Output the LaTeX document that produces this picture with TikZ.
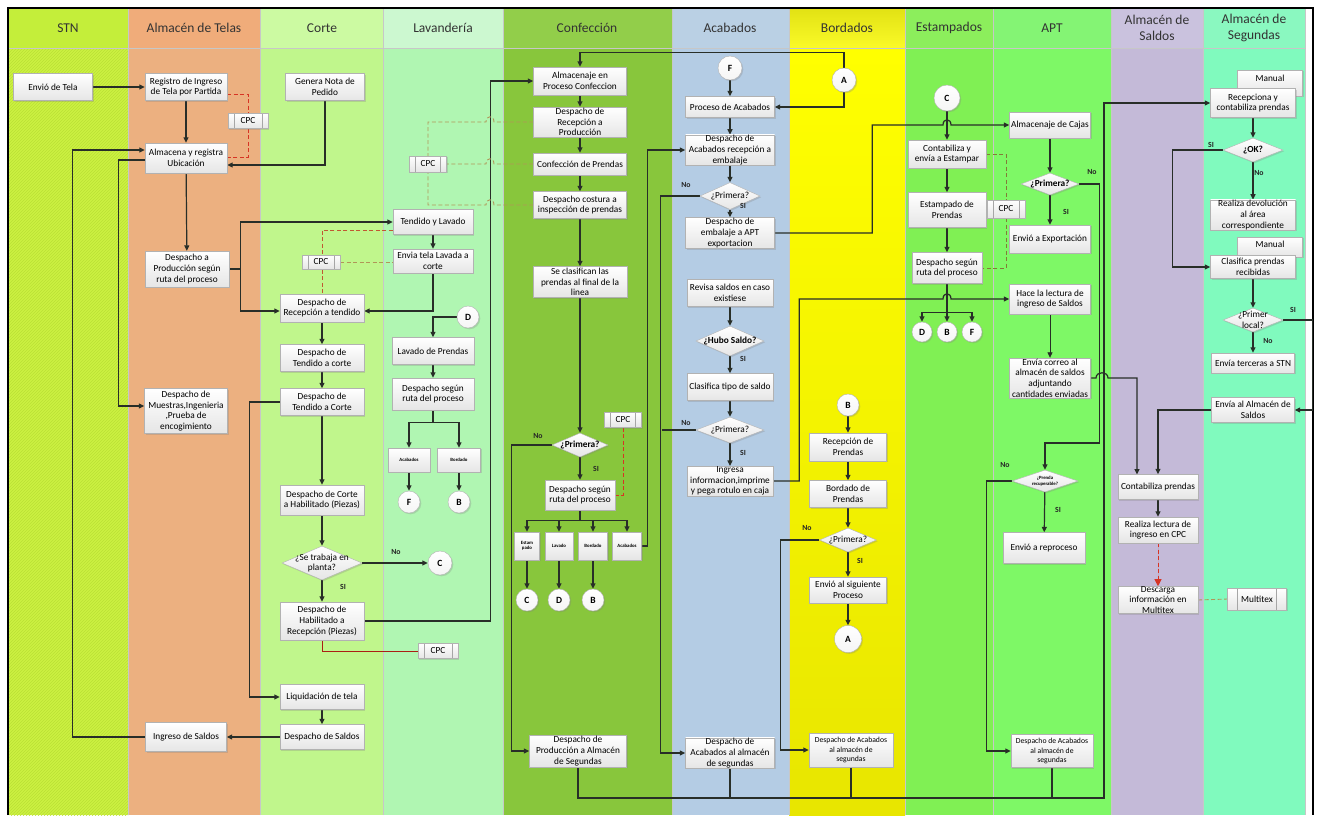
\documentclass[tikz,border=0pt]{standalone}
\usepackage{fontspec}
\setmainfont{Carlito}
\usetikzlibrary{arrows.meta,shapes.geometric,shadows,patterns}

\definecolor{hSTN}{RGB}{196,238,58}
\definecolor{bSTN}{RGB}{204,241,66}
\definecolor{tSTN}{RGB}{186,224,52}
\definecolor{hTel}{RGB}{240,172,122}
\definecolor{bTel}{RGB}{236,176,128}
\definecolor{hCor}{RGB}{204,250,162}
\definecolor{bCor}{RGB}{192,246,140}
\definecolor{hLav}{RGB}{204,248,208}
\definecolor{bLav}{RGB}{176,246,178}
\definecolor{hCon}{RGB}{146,206,74}
\definecolor{bCon}{RGB}{136,198,60}
\definecolor{hAca}{RGB}{186,208,228}
\definecolor{bAca}{RGB}{180,204,228}
\definecolor{hBorA}{RGB}{226,226,20}
\definecolor{hBorB}{RGB}{250,250,40}
\definecolor{bBorA}{RGB}{255,255,0}
\definecolor{bBorB}{RGB}{232,230,0}
\definecolor{hEst}{RGB}{140,238,92}
\definecolor{bEst}{RGB}{128,240,84}
\definecolor{hAPT}{RGB}{132,244,116}
\definecolor{bAPT}{RGB}{126,248,102}
\definecolor{hSal}{RGB}{202,194,222}
\definecolor{bSal}{RGB}{196,186,216}
\definecolor{hSeg}{RGB}{138,248,192}
\definecolor{bSeg}{RGB}{128,250,190}
\definecolor{lnk}{RGB}{40,46,40}
\definecolor{tanD}{RGB}{176,150,88}
\definecolor{brnD}{RGB}{192,88,50}
\definecolor{redD}{RGB}{214,52,36}
\definecolor{redL}{RGB}{170,30,20}
\definecolor{oliD}{RGB}{130,124,56}

\newcommand\fnorm{\fontsize{9.3}{10.6}\selectfont}
\newcommand\fsmall{\fontsize{7.7}{9.2}\selectfont}
\newcommand\ftiny{\fontsize{4.8}{5.6}\selectfont\bfseries}
\newcommand\fhead{\fontsize{13.5}{15.5}\selectfont}
\newcommand\fcirc{\fontsize{9.5}{11}\selectfont\bfseries}
\newcommand\fyn{\fontsize{7.8}{9}\selectfont\bfseries}

\pgfdeclarelayer{lanes}
\pgfdeclarelayer{wires}
\pgfsetlayers{lanes,wires,main}

\tikzset{
  sep/.style={draw=black!22, line width=0.5pt},
  shade box/.style={draw=black!30, line width=0.4pt, top color=white, bottom color=black!10,
    drop shadow={shadow xshift=1.3pt, shadow yshift=-1.3pt, opacity=0.28}},
  box/.style={shade box, rectangle, align=center, font=\fnorm, inner sep=0.5pt,
    minimum width=82, minimum height=27},
  sbox/.style={box, font=\fsmall},
  rbox/.style={box, font=\ftiny, minimum width=28, minimum height=28},
  dia/.style={shade box, diamond, inner sep=0pt, minimum width=60, minimum height=24},
  conn/.style={shade box, circle, bottom color=black!4, font=\fcirc, inner sep=0pt, minimum size=24},
  cpcbox/.style={box, minimum width=40, minimum height=15,
    path picture={\draw[black!35, line width=0.4pt]
      ([xshift=#1]path picture bounding box.south west) -- ([xshift=#1]path picture bounding box.north west)
      ([xshift=-#1]path picture bounding box.south east) -- ([xshift=-#1]path picture bounding box.north east);}},
  cpcbox/.default=6pt,
  ln/.style={draw=lnk, line width=1.2pt},
  arr/.style={ln, -{Triangle[length=5.5pt,width=5pt]}},
  yn/.style={font=\fyn, inner sep=0pt, text=black!85},
  hdr/.style={font=\fhead, align=center, inner sep=0pt, text=black!80},
  tandash/.style={draw=tanD, line width=0.9pt, dash pattern=on 4pt off 2.5pt},
  brndash/.style={draw=brnD, line width=0.9pt, dash pattern=on 4pt off 2.5pt},
  reddash/.style={draw=redD, line width=0.9pt, dash pattern=on 4pt off 2.5pt},
  olidash/.style={draw=oliD, line width=0.9pt, dash pattern=on 4pt off 2.5pt},
  redline/.style={draw=redL, line width=1pt}
}

\begin{document}
\begin{tikzpicture}[x=1pt,y=-1pt]
\useasboundingbox (0,0) rectangle (1318,815);

% ---------------- swimlanes
\begin{pgfonlayer}{lanes}
\fill[white] (0,0) rectangle (1318,815);
\fill[bSTN] (9,48) rectangle (128,815);
\fill[pattern=north east lines, pattern color=tSTN] (9,48) rectangle (128,815);
\fill[bTel] (128,48) rectangle (260,815);
\fill[bCor] (260,48) rectangle (383,815);
\fill[bLav] (383,48) rectangle (503,815);
\fill[bCon] (503,48) rectangle (672,815);
\fill[bAca] (672,48) rectangle (789,815);
\shade[top color=bBorA, bottom color=bBorB] (789,48) rectangle (905,815);
\fill[bEst] (905,48) rectangle (993,815);
\fill[bAPT] (993,48) rectangle (1111,815);
\fill[bSal] (1111,48) rectangle (1203,815);
\fill[bSeg] (1203,48) rectangle (1305,815);
\fill[hSTN] (9,9) rectangle (128,48);
\fill[hTel] (128,9) rectangle (260,48);
\fill[hCor] (260,9) rectangle (383,48);
\fill[hLav] (383,9) rectangle (503,48);
\fill[hCon] (503,9) rectangle (672,48);
\fill[hAca] (672,9) rectangle (789,48);
\shade[top color=hBorA, bottom color=hBorB] (789,9) rectangle (905,48);
\fill[hEst] (905,9) rectangle (993,48);
\fill[hAPT] (993,9) rectangle (1111,48);
\fill[hSal] (1111,9) rectangle (1203,48);
\fill[hSeg] (1203,9) rectangle (1305,48);
\foreach \x in {128,260,383,503,672,789,905,993,1111,1203,1305}
  \draw[sep] (\x,9) -- (\x,815);
\draw[sep] (9,48) -- (1305,48);
\draw[line width=2.2pt] (8,815) -- (8,8) -- (1313,8) -- (1313,815);
\end{pgfonlayer}

% ---------------- lane titles
\node[hdr] (hd1) at (68,28) {STN};
\node[hdr] (hd2) at (194,28) {Almacén de Telas};
\node[hdr] (hd3) at (322,28) {Corte};
\node[hdr] (hd4) at (443,28) {Lavandería};
\node[hdr] (hd5) at (587,28) {Confección};
\node[hdr] (hd6) at (730,28) {Acabados};
\node[hdr] (hd7) at (847,28) {Bordados};
\node[hdr] (hd8) at (949,28) {Estampados};
\node[hdr] (hd9) at (1052,28) {APT};
\node[hdr] (hd10) at (1157,28) {Almacén de\\Saldos};
\node[hdr] (hd11) at (1254,28) {Almacén de\\Segundas};

% ---------------- STN / Almacén de Telas
\node[box, minimum width=79] (envio) at (53,87) {Envió de Tela};
\node[box] (reg) at (186,87) {Registro de Ingreso\\de Tela por Partida};
\node[cpcbox] (cpc1) at (248,121) {CPC};
\node[box, minimum height=30] (alm) at (186,158) {Almacena y registra\\Ubicación};
\node[box, minimum width=84, minimum height=36] (desprod) at (187,269) {Despacho a\\Producción según\\ruta del proceso};
\node[box, minimum width=83, minimum height=45] (muestras) at (186,411) {Despacho de\\Muestras,Ingenieria\\,Prueba de\\encogimiento};
\node[box, minimum width=81, minimum height=29] (ingsal) at (186,737) {Ingreso de Saldos};

% ---------------- Corte
\node[box, minimum width=79] (genera) at (325,87) {Genera Nota de\\Pedido};
\node[cpcbox, minimum width=38, minimum height=14] (cpc2) at (321,262) {CPC};
\node[box, minimum width=84, minimum height=28] (recten) at (322,308) {Despacho de\\Recepción a tendido};
\node[box, minimum width=84] (tenc1) at (322,358) {Despacho de\\Tendido a corte};
\node[box, minimum width=84] (tenc2) at (322,402) {Despacho de\\Tendido a Corte};
\node[box, minimum width=84, minimum height=30] (corhab) at (322,500) {Despacho de Corte\\a Habilitado (Piezas)};
\node[dia, minimum width=80, minimum height=34,
  label={[font=\fnorm,align=center]center:{¿Se trabaja en\\planta?}}] (planta) at (322,563) {};
\node[box, minimum width=84, minimum height=38] (habrec) at (322,621) {Despacho de\\Habilitado a\\Recepción (Piezas)};
\node[cpcbox] (cpc3) at (438,651) {CPC};
\node[box, minimum width=84, minimum height=25] (liq) at (322,697) {Liquidación de tela};
\node[box, minimum width=84, minimum height=25] (dessal) at (322,737) {Despacho de Saldos};

% ---------------- Lavandería
\node[box, minimum width=80, minimum height=25] (tenlav) at (433,222) {Tendido y Lavado};
\node[box, minimum width=80, minimum height=24] (envlav) at (433,261) {Envia tela Lavada a\\corte};
\node[cpcbox, minimum width=37, minimum height=16] (cpc4) at (428,164) {CPC};
\node[conn, minimum size=22] (D1) at (468,317) {D};
\node[box] (lavpre) at (433,351) {Lavado de Prendas};
\node[box, minimum height=32] (desrut1) at (433,394) {Despacho según\\ruta del proceso};
\node[rbox, minimum width=42, minimum height=24] (sacab1) at (409,460) {Acabados};
\node[rbox, minimum width=43, minimum height=24] (sbord1) at (459,460) {Bordado};
\node[conn, minimum size=22] (F1) at (409,502) {F};
\node[conn, minimum size=22] (B1) at (459,502) {B};
\node[conn] (C1) at (440,563) {C};

% ---------------- Confección
\node[box, minimum width=93, minimum height=28] (almproc) at (580,81) {Almacenaje en\\Proceso Confeccion};
\node[box, minimum width=93, minimum height=30] (desrecp) at (580,122) {Despacho de\\Recepción a\\Producción};
\node[box, minimum width=93, minimum height=22] (confpr) at (580,164) {Confección de Prendas};
\node[box, minimum width=93, minimum height=27] (descost) at (580,205) {Despacho costura a\\inspección de prendas};
\node[box, minimum width=94, minimum height=31] (clasif) at (580,282) {Se clasifican las\\prendas al final de la\\linea};
\node[cpcbox, minimum width=37] (cpc5) at (623,420) {CPC};
\node[dia, minimum width=56, minimum height=24,
  label={[font=\fnorm\bfseries]center:¿Primera?}] (prim1) at (580,445) {};
\node[box, minimum width=70, minimum height=30] (desrut2) at (580,495) {Despacho según\\ruta del proceso};
\node[rbox, minimum width=25] (sestam) at (527,546) {Estam\\pado};
\node[rbox] (slav) at (559,546) {Lavado};
\node[rbox, minimum width=29] (sbord2) at (593,546) {Bordado};
\node[rbox, minimum width=29] (sacab2) at (627,546) {Acabados};
\node[conn, minimum size=22] (C2) at (527,600) {C};
\node[conn, minimum size=22] (D2) at (559,600) {D};
\node[conn, minimum size=22] (B2) at (593,600) {B};
\node[box, minimum width=97, minimum height=32] (prodseg) at (578,751) {Despacho de\\Producción a Almacén\\de Segundas};

% ---------------- Acabados
\node[conn] (F2) at (730,68) {F};
\node[box, minimum width=89, minimum height=21] (procac) at (730,107) {Proceso de Acabados};
\node[box, minimum width=89, minimum height=30] (desemb) at (730,150) {Despacho de\\Acabados recepción a\\embalaje};
\node[dia, minimum width=60, minimum height=27,
  label={[font=\fnorm]center:¿Primera?}] (prim2) at (730,196) {};
\node[box, minimum width=89, minimum height=31] (embapt) at (730,233) {Despacho de\\embalaje a APT\\exportacion};
\node[box, minimum width=86] (revisa) at (730,293) {Revisa saldos en caso\\existiese};
\node[dia, minimum width=68, minimum height=30,
  label={[font=\fnorm\bfseries]center:¿Hubo Saldo?}] (hubo) at (730,341) {};
\node[box, minimum width=86] (clastip) at (730,387) {Clasifica tipo de saldo};
\node[dia, minimum width=68, minimum height=26,
  label={[font=\fnorm]center:¿Primera?}] (prim3) at (730,430) {};
\node[box, minimum width=86, minimum height=27] (ingresa) at (730,481) {Ingresa\\informacion,imprime\\y pega rotulo en caja};
\node[box, minimum width=89, minimum height=29] (acseg) at (730,753) {Despacho de\\Acabados al almacén\\de segundas};

% ---------------- Bordados
\node[conn] (A1) at (844,80) {A};
\node[conn, minimum size=22] (B3) at (848,405) {B};
\node[box, minimum width=77, minimum height=28] (recpr) at (848,447) {Recepción de\\Prendas};
\node[box, minimum width=77] (bordpr) at (848,494) {Bordado de\\Prendas};
\node[dia, minimum width=57, minimum height=24,
  label={[font=\fnorm]center:¿Primera?}] (prim4) at (848,540) {};
\node[box, minimum width=77, minimum height=26] (envsig) at (848,590) {Envió al siguiente\\Proceso};
\node[conn, minimum size=27] (A2) at (848,639) {A};
\node[sbox, minimum width=84, minimum height=34] (bordseg) at (851,750) {Despacho de Acabados\\al almacén de\\segundas};

% ---------------- Estampados
\node[conn, minimum size=26] (C3) at (947,98) {C};
\node[box, minimum width=78, minimum height=28] (contab) at (947,154) {Contabiliza y\\envía a Estampar};
\node[box, minimum width=78, minimum height=35] (estpr) at (947,210) {Estampado de\\Prendas};
\node[cpcbox, minimum width=38, minimum height=18] (cpc6) at (1006,209) {CPC};
\node[box, minimum width=70, minimum height=31] (desrut3) at (947,268) {Despacho según\\ruta del proceso};
\node[conn, minimum size=20] (D3) at (922,332) {D};
\node[conn, minimum size=20] (B4) at (947,332) {B};
\node[conn, minimum size=20] (F3) at (972,332) {F};

% ---------------- APT
\node[box, minimum width=81, minimum height=26] (almcaj) at (1050,125) {Almacenaje de Cajas};
\node[dia, minimum width=58, minimum height=22,
  label={[font=\fnorm\bfseries]center:¿Primera?}] (prim5) at (1050,184) {};
\node[box, minimum width=81, minimum height=28] (envexp) at (1050,239) {Envió a Exportación};
\node[box, minimum width=81, minimum height=30] (hace) at (1050,299) {Hace la lectura de\\ingreso de Saldos};
\node[box, minimum width=81, minimum height=40] (correo) at (1050,378) {Envía correo al\\almacén de saldos\\adjuntando\\cantidades enviadas};
\node[dia, minimum width=66, minimum height=22,
  label={[font=\ftiny,align=center]center:{¿Prenda\\recuperable?}}] (recup) at (1045,481) {};
\node[box, minimum width=82, minimum height=31] (repro) at (1044,548) {Envió a reproceso};
\node[sbox, minimum width=82, minimum height=33] (aptseg) at (1052,751) {Despacho de Acabados\\al almacén de\\segundas};

% ---------------- Almacén de Saldos
\node[box, minimum width=80, minimum height=25] (contpr) at (1158,487) {Contabiliza prendas};
\node[box, minimum width=80, minimum height=26] (realiza) at (1158,530) {Realiza lectura de\\ingreso en CPC};
\node[box, minimum width=80, minimum height=25, inner sep=0pt] (descarga) at (1158,600) {Descarga\\información en\\Multitex};
\node[cpcbox=10pt, minimum width=59, minimum height=22] (multitex) at (1257,599) {Multitex};

% ---------------- Almacén de Segundas
\node[box, minimum width=65, minimum height=26,
  label={[font=\fnorm, anchor=north, yshift=-2pt]north:Manual}] (man1) at (1270,83) {};
\node[box, minimum width=85, minimum height=29] (recep) at (1253,103) {Recepciona y\\contabiliza prendas};
\node[dia, minimum width=60, minimum height=24,
  label={[font=\fnorm\bfseries]center:¿OK?}] (ok) at (1253,150) {};
\node[box, minimum width=85, minimum height=30] (devol) at (1253,215) {Realiza devolución\\al área\\correspondiente};
\node[box, minimum width=65, minimum height=20,
  label={[font=\fnorm, anchor=north, yshift=-1pt]north:Manual}] (man2) at (1270,247) {};
\node[box, minimum width=85, minimum height=23] (clasr) at (1253,267) {Clasifica prendas\\recibidas};
\node[dia, minimum width=60, minimum height=24,
  label={[font=\fnorm,align=center]center:{¿Primer\\local?}}] (primloc) at (1253,320) {};
\node[box, minimum width=83, minimum height=20] (terceras) at (1253,363) {Envía terceras a STN};
\node[box, minimum width=83, minimum height=25] (envalm) at (1253,410) {Envía al Almacén de\\Saldos};

% ---------------- decision labels
\node[yn] (nPl) at (396,552) {No};
\node[yn] (sPl) at (343,587) {SI};
\node[yn] (nP1) at (538,436) {No};
\node[yn] (sP1) at (596,469) {SI};
\node[yn] (nP2) at (686,185) {No};
\node[yn] (sP2) at (743,206) {SI};
\node[yn] (sHu) at (743,359) {SI};
\node[yn] (nP3) at (686,423) {No};
\node[yn] (sP3) at (743,453) {SI};
\node[yn] (nP4) at (807,528) {No};
\node[yn] (sP4) at (860,561) {SI};
\node[yn] (nP5) at (1092,172) {No};
\node[yn] (sP5) at (1066,212) {SI};
\node[yn] (nRc) at (1005,465) {No};
\node[yn] (sRc) at (1058,510) {SI};
\node[yn] (sOK) at (1211,145) {SI};
\node[yn] (nOK) at (1259,173) {No};
\node[yn] (sLc) at (1293,310) {SI};
\node[yn] (nLc) at (1268,341) {No};

\coordinate (bus) at (0,798);

% ---------------- connectors
\begin{pgfonlayer}{wires}
% STN / Almacén de Telas
\draw[arr] (envio.east) -- (reg.west);
\draw[arr] (reg) -- (alm);
\draw[reddash] ([yshift=-7pt]reg.east) -| (cpc1.north);
\draw[reddash] (cpc1.south) |- ([yshift=1pt]alm.east);
\draw[arr] (genera.south) |- ([yshift=-7pt]alm.east);
\draw[arr] (ingsal.west) -- ++(-72.5,0) |- ([yshift=8pt]alm.west);
\draw[arr] ([yshift=-2pt]alm.west) -- ++(-26,0) |- ([yshift=5pt]muestras.west);
\draw[arr] (alm) -- (desprod);
\draw[arr] (desprod.east) -- ++(11,0) |- (tenlav.west);
\draw[arr] (desprod.east) -- ++(11,0) |- ([yshift=-3pt]recten.west);
% Corte
\draw[arr] (recten) -- (tenc1);
\draw[arr] (tenc1) -- (tenc2);
\draw[arr] (tenc2) -- (corhab);
\draw[arr] (corhab) -- (planta);
\draw[arr] (planta) -- (habrec);
\draw[arr] (planta.east) -- (C1.west);
\draw[arr] (habrec.east) -- ++(126,0) |- (almproc.west);
\draw[redline] (habrec.south) |- (cpc3.west);
\draw[arr] (tenc2.west) -- ++(-30,0) |- (liq.west);
\draw[arr] (liq) -- (dessal);
\draw[arr] (dessal) -- (ingsal);
% Lavandería
\draw[brndash] ([yshift=-8pt]tenlav.west) -| (recten.north);
\draw[tandash] (cpc2.east) -- (cpc2.east -| envlav.west);
\draw[arr] (tenlav) -- (envlav);
\draw[arr] (envlav.south) |- ([yshift=-3pt]recten.east);
\draw[arr] (D1.west) -| (lavpre.north);
\draw[arr] (lavpre) -- (desrut1);
\draw[arr] (desrut1.south) -- ++(0,12) -| (sacab1.north);
\draw[arr] (desrut1.south) -- ++(0,12) -| (sbord1.north);
\draw[arr] (sacab1) -- (F1);
\draw[arr] (sbord1) -- (B1);
% Confección
\draw[arr] (A1.north) -- ++(0,-15) -| (almproc.north);
\draw[arr] (A1.south) |- (procac.east);
\draw[arr] (almproc) -- (desrecp);
\draw[arr] (desrecp) -- (confpr);
\draw[arr] (confpr) -- (descost);
\draw[arr, line width=1.7pt] (descost) -- (clasif);
\draw[arr] (clasif) -- (prim1);
\draw[tandash] (desrecp.west) -- (494,122) .. controls (494,115) and (486,115) .. (486,122) -| (cpc4.north);
\draw[tandash] (confpr.west) -- (494,164) .. controls (494,157) and (486,157) .. (486,164) -- (cpc4.east);
\draw[tandash] (descost.west) -- (494,205) .. controls (494,198) and (486,198) .. (486,205) -| (cpc4.south);
\draw[arr] (prim1.west) -- ++(-40,0) |- (prodseg.west);
\draw[arr] (prim1) -- (desrut2);
\draw[reddash] (cpc5.south) |- (desrut2.east);
\draw[arr] (desrut2.south) -- ++(0,10) -| (sestam.north);
\draw[arr] (desrut2.south) -- ++(0,10) -| (slav.north);
\draw[arr] (desrut2.south) -- ++(0,10) -| (sbord2.north);
\draw[arr] (desrut2.south) -- ++(0,10) -| (sacab2.north);
\draw[arr] (sestam) -- (C2);
\draw[arr] (slav) -- (D2);
\draw[arr] (sbord2) -- (B2);
\draw[arr] (sacab2.east) -- ++(5.5,0) |- (desemb.west);
% Acabados
\draw[arr] (F2) -- (procac);
\draw[arr] (procac) -- (desemb);
\draw[arr] (desemb) -- (prim2);
\draw[arr] (prim2) -- (embapt);
\draw[arr] (prim2.west) -- ++(-39,0) |- (acseg.west);
\draw[ln] (prim3.west) -- ++(-34,0);
\draw[arr] (embapt.east) -- ++(97.5,0) |- (943,125) .. controls (943,118) and (951,118) .. (951,125) -- (almcaj.west);
\draw[arr] (revisa) -- (hubo);
\draw[arr] (hubo) -- (clastip);
\draw[arr] (clastip) -- (prim3);
\draw[arr] (prim3) -- (ingresa);
\draw[arr] (ingresa.east) -- ++(26,0) |- (943,299) .. controls (943,292) and (951,292) .. (951,299) -- (hace.west);
% Bordados
\draw[arr] (B3) -- (recpr);
\draw[arr] (recpr) -- (bordpr);
\draw[arr] (bordpr) -- (prim4);
\draw[arr] (prim4) -- (envsig);
\draw[arr] (envsig) -- (A2);
\draw[arr] (prim4.west) -- ++(-39,0) |- (bordseg.west);
% Estampados
\draw[arr] (C3) -- (contab);
\draw[arr] (contab) -- (estpr);
\draw[arr] (estpr) -- (desrut3);
\draw[olidash] (contab.east) -| (cpc6.north);
\draw[olidash] (cpc6.south) |- (desrut3.east);
\draw[arr] (desrut3.south) -- ++(0,28.5) -| (D3.north);
\draw[arr] (desrut3.south) -- (B4.north);
\draw[arr] (desrut3.south) -- ++(0,28.5) -| (F3.north);
% APT
\draw[arr] (almcaj) -- (prim5);
\draw[arr] (prim5) -- (envexp);
\draw[arr] (prim5.east) -- ++(20,0) -- ++(0,259) -| (recup.north);
\draw[arr, line width=0.8pt] (hace) -- (correo);
\draw[arr] (correo.east) -- (1096,378) .. controls (1096,371) and (1108,371) .. (1108,378) -- (1137,378) -- ++(0,96.5);
\draw[arr] (recup.west) -- ++(-25,0) |- (aptseg.west);
\draw[arr] (recup) -- (repro);
% return line to Almacén de Segundas
\draw[arr] (prodseg.south) |- (1104,798) |- (recep.west);
\draw[ln] (acseg.south) -- (acseg.south |- bus);
\draw[ln] (bordseg.south) -- (bordseg.south |- bus);
\draw[ln] (aptseg.south) -- (aptseg.south |- bus);
% Almacén de Saldos
\draw[arr] (contpr) -- (realiza);
\draw[reddash, -{Triangle[length=7pt,width=7pt]}, fill=redD] (realiza) -- (descarga);
\draw[tandash] (descarga.east) -- (multitex.west);
\draw[arr] (envalm.west) -| (contpr.north);
% Almacén de Segundas
\draw[arr] (recep) -- (ok);
\draw[arr] (ok.west) -- ++(-50,0) |- (clasr.west);
\draw[arr] (ok) -- (devol);
\draw[arr] (clasr) -- (primloc);
\draw[arr] (primloc.east) -- ++(29,0) |- (envalm.east);
\draw[arr] (primloc) -- (terceras);
\end{pgfonlayer}
\end{tikzpicture}
\end{document}
